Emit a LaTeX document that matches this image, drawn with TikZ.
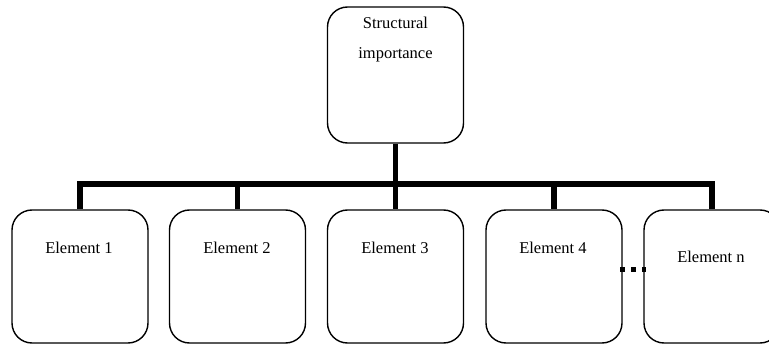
\documentclass[tikz,border=0pt]{standalone}
\usepackage{fontspec}
\setmainfont{Liberation Serif}
\begin{document}
\begin{tikzpicture}[x=1pt,y=-1pt,
  box/.style={draw=black, line width=1.4pt, rounded corners=20pt, minimum width=136pt, minimum height=133pt, inner sep=0pt, fill=white},
  lbl/.style={font=\fontsize{16.5}{18}\selectfont, inner sep=0pt},
  conn/.style={line width=5.5pt, line cap=butt}]
\useasboundingbox (0,0) rectangle (769,345);
\clip (0,0) rectangle (769,345);
% boxes
\node[box, minimum height=136pt] (top) at (395.5,75) {};
\node[box] (e1) at (80,276.5) {};
\node[box] (e2) at (237.5,276.5) {};
\node[box] (e3) at (395.5,276.5) {};
\node[box] (e4) at (554,276.5) {};
\node[box] (en) at (712,276.5) {};
% labels
\node[lbl] (t1) at (395.5,23) {Structural};
\node[lbl] (t2) at (395.5,55) {importance};
\node[lbl] (l1) at (79,248) {Element 1};
\node[lbl] (l2) at (237,248) {Element 2};
\node[lbl] (l3) at (395,248) {Element 3};
\node[lbl] (l4) at (553,248) {Element 4};
\node[lbl] (ln) at (711,257) {Element n};
% connectors
\coordinate (b1) at (80,184);
\coordinate (bn) at (712,184);
\draw[conn] (top.south) -- (e3.north);
\draw[conn, line width=6pt] ([xshift=-2.75pt]b1) -- ([xshift=2.75pt]bn);
\draw[conn] (b1) -- (e1.north);
\draw[conn] (237.5,184) -- (e2.north);
\draw[conn] (554,184) -- (e4.north);
\draw[conn] (bn) -- (en.north);
% dots
\draw[line width=5pt, dash pattern=on 5pt off 6pt] ([yshift=7.5pt,xshift=-2.5pt]e4.east) -- ([yshift=7.5pt,xshift=3pt]en.west);
\end{tikzpicture}
\end{document}
